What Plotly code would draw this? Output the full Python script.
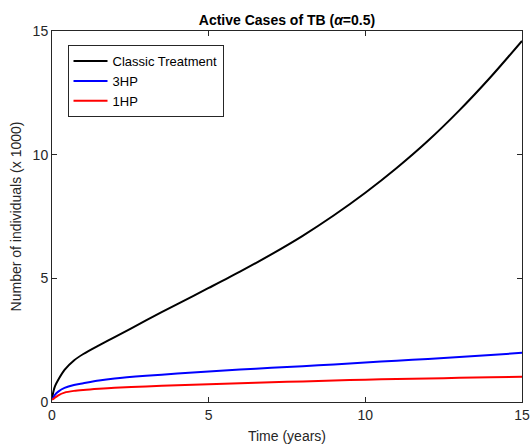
import plotly.graph_objects as go

t = [0, 0.05, 0.1, 0.2, 0.4, 0.7, 1, 1.5, 2, 3, 4, 5, 6, 7, 8, 9, 10, 11, 12, 13, 14, 15]
classic = [0.1, 0.45, 0.65, 0.9, 1.3, 1.68, 1.94, 2.29, 2.62, 3.3, 3.96, 4.61, 5.27, 5.97, 6.72, 7.55, 8.46, 9.46, 10.56, 11.79, 13.14, 14.6]
hp3 = [0.1, 0.2, 0.3, 0.42, 0.57, 0.69, 0.76, 0.87, 0.95, 1.06, 1.15, 1.23, 1.31, 1.38, 1.45, 1.52, 1.6, 1.67, 1.74, 1.82, 1.9, 1.99]
hp1 = [0.1, 0.13, 0.18, 0.27, 0.38, 0.45, 0.49, 0.54, 0.58, 0.63, 0.68, 0.72, 0.76, 0.8, 0.83, 0.87, 0.9, 0.93, 0.95, 0.98, 1.0, 1.02]

names = ["Classic Treatment", "3HP", "1HP"]
colors = ["#000000", "#0000ff", "#ff0000"]
ticks = [0, 5, 10, 15]
FONT = "Liberation Sans, Arial, Helvetica, sans-serif"

fig = go.Figure()
for y, n, c in zip([classic, hp3, hp1], names, colors):
    fig.add_trace(go.Scatter(x=t, y=y, name=n, mode="lines",
                             line=dict(color=c, width=2, shape="spline", smoothing=0.8)))

axis_common = dict(
    range=[0, 15], tickvals=ticks, ticks="inside", ticklen=5, tickwidth=1,
    tickcolor="#262626", showline=True, linecolor="#262626", linewidth=1,
    mirror="ticks", showgrid=False, zeroline=False, automargin=False,
    tickfont=dict(family=FONT, size=14, color="#262626"),
)

fig.update_layout(
    width=530, height=448,
    margin=dict(l=52, r=8, t=31, b=46, autoexpand=False),
    paper_bgcolor="white", plot_bgcolor="white",
    font=dict(family=FONT, size=14, color="#262626"),
    title=dict(text="<b>Active Cases of TB (<i>α</i>=0.5)</b>", x=0.5415, xanchor="center",
               y=0.955, yanchor="middle",
               font=dict(family=FONT, size=14, color="#000000")),
    xaxis=dict(axis_common, title=dict(text="Time (years)", standoff=9,
                                       font=dict(family=FONT, size=14, color="#262626"))),
    yaxis=dict(axis_common, title=dict(text="Number of individuals (x 1000)", standoff=7,
                                       font=dict(family=FONT, size=14, color="#262626"))),
    legend=dict(x=0.033, y=0.962, xanchor="left", yanchor="top",
                bgcolor="white", bordercolor="#262626", borderwidth=1,
                font=dict(family=FONT, size=13, color="#000000"),
                tracegroupgap=0, itemwidth=34),
    showlegend=True,
)

fig.write_html("out.html")
